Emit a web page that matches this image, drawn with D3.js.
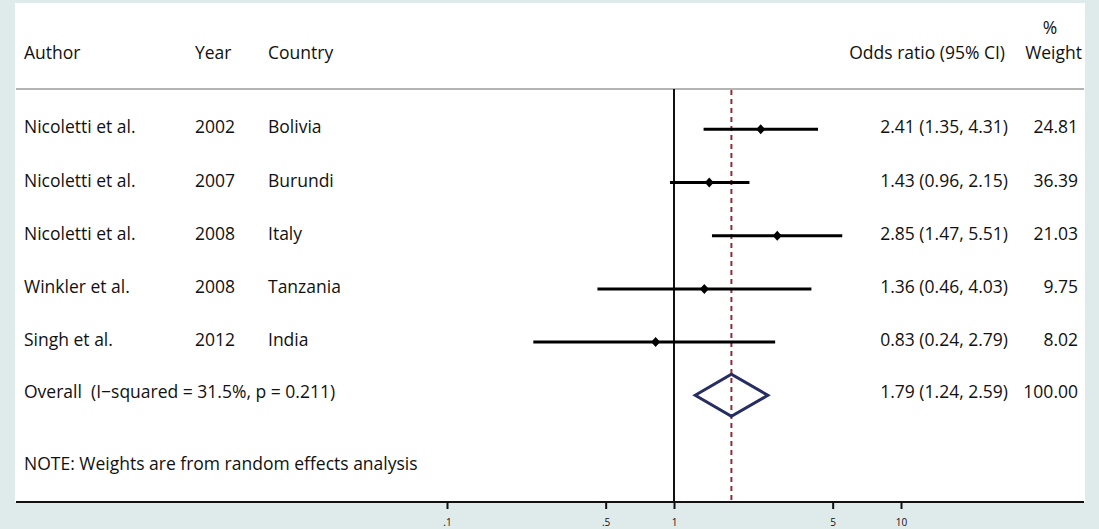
<!DOCTYPE html>
<html>
<head>
<meta charset="utf-8">
<script src="https://cdn.jsdelivr.net/npm/d3@7"></script>
<style>
  body { margin: 0; background: #dfeaeb; }
  svg text { font-family: "Open Sans", sans-serif; fill: #111; }
</style>
</head>
<body>
<div id="chart"></div>
<script>
// study rows
let authors = ["Nicoletti et al.", "Nicoletti et al.", "Nicoletti et al.", "Winkler et al.", "Singh et al."];
let years = ["2002", "2007", "2008", "2008", "2012"];
let countries = ["Bolivia", "Burundi", "Italy", "Tanzania", "India"];
let oddsRatio = [2.41, 1.43, 2.85, 1.36, 0.83];
let ciLow = [1.35, 0.96, 1.47, 0.46, 0.24];
let ciHigh = [4.31, 2.15, 5.51, 4.03, 2.79];
let weights = ["24.81", "36.39", "21.03", "9.75", "8.02"];

// pooled estimate
let overallLabel = "Overall\u00a0\u00a0(I\u2212squared = 31.5%, p = 0.211)";
let overallOR = 1.79, overallLow = 1.24, overallHigh = 2.59;
let overallWeight = "100.00";

let tickValues = [0.1, 0.5, 1, 5, 10];
let tickLabels = [".1", ".5", "1", "5", "10"];

let width = 1099, height = 529;
let panel = { left: 15, right: 1085, top: 3, bottom: 502 };
let headerLineY = 89;

let fmt = d3.format(".2f");

let x = d3.scaleLog().domain([0.1, 10]).range([447, 901]);
let y = d3.scaleLinear().domain([0, 5]).range([129.3, 395.3]);

let svg = d3.select("#chart").append("svg")
  .attr("width", width)
  .attr("height", height);

// white plot panel
svg.append("rect")
  .attr("x", panel.left).attr("y", panel.top)
  .attr("width", panel.right - panel.left)
  .attr("height", panel.bottom - panel.top)
  .attr("fill", "white");

// header
let fs = "17.5px";
let header = svg.append("g").style("font-size", fs);
header.append("text").attr("x", 24).attr("y", 59).text("Author");
header.append("text").attr("x", 195).attr("y", 59).text("Year");
header.append("text").attr("x", 268).attr("y", 59).text("Country");
header.append("text").attr("x", 1005).attr("y", 59).attr("text-anchor", "end").text("Odds ratio (95% CI)");
header.append("text").attr("x", 1082).attr("y", 59).attr("text-anchor", "end").text("Weight");
header.append("text").attr("x", 1050).attr("y", 34).attr("text-anchor", "middle").text("%");

svg.append("line")
  .attr("x1", 16).attr("x2", 1084)
  .attr("y1", headerLineY).attr("y2", headerLineY)
  .attr("stroke", "#b4b4b4").attr("stroke-width", 2);

// reference lines
svg.append("line")
  .attr("x1", x(1)).attr("x2", x(1))
  .attr("y1", headerLineY).attr("y2", panel.bottom)
  .attr("stroke", "#111").attr("stroke-width", 2);

svg.append("line")
  .attr("x1", x(overallOR)).attr("x2", x(overallOR))
  .attr("y1", headerLineY + 1).attr("y2", panel.bottom)
  .attr("stroke", "#8e2d3b").attr("stroke-width", 2)
  .attr("stroke-dasharray", "5,4");

// study rows
let rows = authors.map((a, i) => ({
  author: a, year: years[i], country: countries[i],
  or: oddsRatio[i], lo: ciLow[i], hi: ciHigh[i], w: weights[i]
}));

let rowG = svg.append("g").selectAll("g.row")
  .data(rows)
  .enter().append("g")
  .attr("class", "row")
  .style("font-size", fs);

rowG.append("line")
  .attr("x1", d => x(d.lo)).attr("x2", d => x(d.hi))
  .attr("y1", (d, i) => y(i)).attr("y2", (d, i) => y(i))
  .attr("stroke", "#000").attr("stroke-width", 3);

rowG.append("path")
  .attr("d", (d, i) => {
    let cx = x(d.or), cy = y(i);
    return "M" + (cx - 4.5) + "," + cy + "L" + cx + "," + (cy - 5) +
      "L" + (cx + 4.5) + "," + cy + "L" + cx + "," + (cy + 5) + "Z";
  })
  .attr("fill", "#000");

rowG.append("text").attr("x", 24).attr("y", (d, i) => y(i) + 4).text(d => d.author);
rowG.append("text").attr("x", 195).attr("y", (d, i) => y(i) + 4).text(d => d.year);
rowG.append("text").attr("x", 268).attr("y", (d, i) => y(i) + 4).text(d => d.country);
rowG.append("text").attr("x", 1008).attr("y", (d, i) => y(i) + 4)
  .attr("text-anchor", "end")
  .text(d => fmt(d.or) + " (" + fmt(d.lo) + ", " + fmt(d.hi) + ")");
rowG.append("text").attr("x", 1078).attr("y", (d, i) => y(i) + 4)
  .attr("text-anchor", "end")
  .text(d => d.w);

// overall
let oy = y(5);
let ov = svg.append("g").style("font-size", fs);
ov.append("path")
  .attr("d", "M" + x(overallLow) + "," + oy +
    "L" + x(overallOR) + "," + (oy - 21) +
    "L" + x(overallHigh) + "," + oy +
    "L" + x(overallOR) + "," + (oy + 21) + "Z")
  .attr("fill", "none")
  .attr("stroke", "#262d62").attr("stroke-width", 3)
  .attr("stroke-linejoin", "miter");
ov.append("text").attr("x", 24).attr("y", oy + 3).text(overallLabel);
ov.append("text").attr("x", 1008).attr("y", oy + 3).attr("text-anchor", "end")
  .text(fmt(overallOR) + " (" + fmt(overallLow) + ", " + fmt(overallHigh) + ")");
ov.append("text").attr("x", 1078).attr("y", oy + 3).attr("text-anchor", "end").text(overallWeight);

svg.append("text")
  .attr("x", 24).attr("y", 470)
  .style("font-size", fs)
  .text("NOTE: Weights are from random effects analysis");

// x axis
svg.append("line")
  .attr("x1", 16).attr("x2", 1084)
  .attr("y1", panel.bottom).attr("y2", panel.bottom)
  .attr("stroke", "#111").attr("stroke-width", 2);

let axis = svg.append("g")
  .attr("transform", "translate(0," + panel.bottom + ")")
  .call(d3.axisBottom(x)
    .tickValues(tickValues)
    .tickFormat((d, i) => tickLabels[i])
    .tickSize(7)
    .tickPadding(10));
axis.select(".domain").remove();
axis.selectAll(".tick line").attr("stroke", "#111").attr("stroke-width", 2);
axis.selectAll(".tick text")
  .style("font-family", "'Open Sans', sans-serif")
  .style("font-size", "10px")
  .attr("fill", "#333");
</script>
</body>
</html>
